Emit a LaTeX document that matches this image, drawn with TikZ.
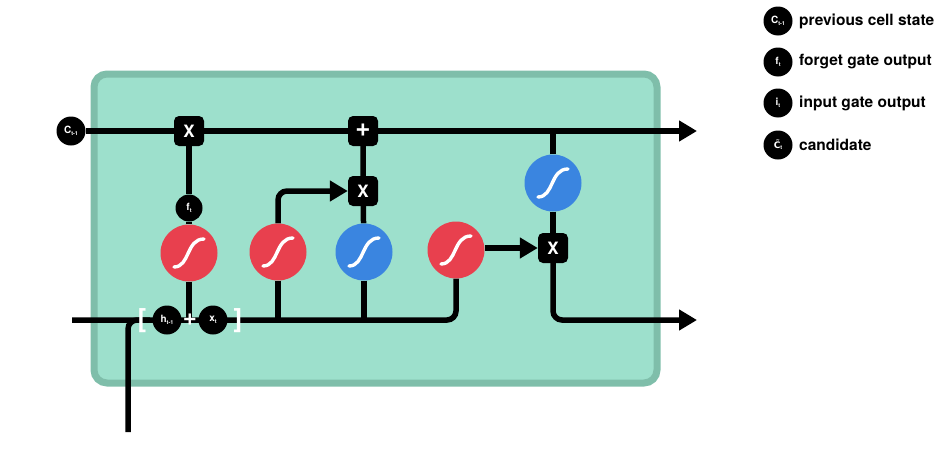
\documentclass[tikz,border=0pt]{standalone}
\usepackage{fontspec}
\setmainfont{TeX Gyre Heros}
\newfontfamily\dejavu{DejaVu Sans}
\usetikzlibrary{arrows.meta,calc}
\pgfdeclarelayer{boxlayer}
\pgfdeclarelayer{linelayer}
\pgfsetlayers{boxlayer,linelayer,main}
\definecolor{tealfill}{HTML}{9DE0CC}
\definecolor{tealedge}{HTML}{7FBEAA}
\definecolor{sigred}{HTML}{E8404E}
\definecolor{tanhblue}{HTML}{3A85E0}
\newcommand\clbl[2]{{\fontsize{10}{10}\selectfont\bfseries #1}\raisebox{-1.6pt}{\fontsize{5.5}{5.5}\selectfont\bfseries #2}}
\tikzset{
  wire/.style={line width=5.5pt,draw=black},
  arr/.style={wire,-{Triangle[length=18pt,width=20pt]}},
  gatebox/.style={rectangle,fill=black,rounded corners=5pt,minimum width=30pt,minimum height=30pt,inner sep=0pt,text=white,font=\fontsize{17}{17}\selectfont\bfseries},
  valdot/.style={circle,fill=black,minimum size=29pt,inner sep=0pt,text=white},
  smalldot/.style={circle,fill=black,minimum size=27pt,inner sep=0pt,text=white},
  sigcirc/.style={circle,fill=sigred,minimum size=57pt,inner sep=0pt},
  tanhcirc/.style={circle,fill=tanhblue,minimum size=57pt,inner sep=0pt},
  legtext/.style={anchor=west,font=\fontsize{15.5}{15.5}\selectfont\bfseries,inner sep=0pt},
  whitetext/.style={text=white,inner sep=0pt},
  scurve/.pic={\draw[white,line width=3.4pt,line cap=round] (-15,14) .. controls (1,14) and (-3,-14) .. (15,-14);}
}
\begin{document}
\begin{tikzpicture}[x=1pt,y=-1pt]
\useasboundingbox (0,0) rectangle (950,450);
% cell box
\begin{pgfonlayer}{boxlayer}
\draw[draw=tealedge,fill=tealfill,line width=7pt,rounded corners=13pt] (94,74) rectangle (657,383);
\end{pgfonlayer}
% nodes
\node[valdot] (cin) at (71,131) {\clbl{C}{t-1}};
\node[gatebox] (x1) at (189,131) {X};
\node[gatebox,font=\fontsize{26}{26}\selectfont\bfseries] (plus) at (363,131) {\raisebox{1pt}{+}};
\coordinate (cout) at (697,131);
\node[smalldot] (ft) at (189,208) {\clbl{f}{t}};
\node[sigcirc] (sig1) at (189,253) {};
\node[sigcirc] (sig2) at (278,252) {};
\node[tanhcirc] (tanh1) at (364,252) {};
\node[sigcirc] (sig3) at (456,250) {};
\node[gatebox] (x2) at (363,191) {X};
\node[gatebox] (x3) at (553,248) {X};
\node[tanhcirc] (tanh2) at (553,183) {};
\pic at (sig1) {scurve};
\pic at (sig2) {scurve};
\pic at (tanh1) {scurve};
\pic at (sig3) {scurve};
\pic at (tanh2) {scurve};
\node[valdot] (hprev) at (167,320) {\clbl{h}{t-1}};
\node[valdot] (xt) at (213,320) {\clbl{x}{t}};
\node[whitetext,font=\fontsize{24}{24}\selectfont\bfseries] (plusin) at (190,320) {+};
\node[whitetext,font=\fontsize{26}{26}\selectfont\bfseries] (lbr) at (142,321) {[};
\node[whitetext,font=\fontsize{26}{26}\selectfont\bfseries] (rbr) at (238,321) {]};
\coordinate (hstart) at (72,320);
\coordinate (xin) at (128,432);
\coordinate (xjoin) at (150,320);
\coordinate (hout) at (697,320);
\coordinate (topj) at (553,131);
% connectors
\begin{pgfonlayer}{linelayer}
\draw[arr] (cin) -- (x1) -- (plus) -- (cout);
\draw[wire] (x1) -- (ft) -- (sig1);
\draw[wire] (sig1) -- (sig1 |- hstart);
\draw[wire,rounded corners=9pt] (hstart) -| (sig3);
\draw[wire,rounded corners=9pt] (xin) |- (xjoin);
\draw[wire] (sig2) -- (sig2 |- hstart);
\draw[arr,rounded corners=9pt] (sig2) |- (x2);
\draw[wire] (tanh1) -- (tanh1 |- hstart);
\draw[wire] (tanh1) -- (x2) -- (plus);
\draw[arr] (sig3.east |- x3) -- (x3);
\draw[wire] (tanh2) -- (topj);
\draw[wire] (tanh2) -- (x3);
\draw[arr,rounded corners=9pt] (x3) |- (hout);
\end{pgfonlayer}
% legend
\node[valdot] (l1) at (778,21) {\clbl{C}{t-1}};
\node[valdot] (l2) at (778,62) {\clbl{f}{t}};
\node[valdot] (l3) at (778,103) {\clbl{i}{t}};
\node[valdot] (l4) at (778,145) {{\dejavu\fontsize{9}{9}\selectfont\bfseries C^^^^0303}\raisebox{-1.6pt}{\fontsize{5.5}{5.5}\selectfont\bfseries t}};
\node[legtext] (t1) at (799,21) {previous cell state};
\node[legtext] (t2) at (799,62) {forget gate output};
\node[legtext] (t3) at (799,103) {input gate output};
\node[legtext] (t4) at (799,145) {candidate};
\end{tikzpicture}
\end{document}
